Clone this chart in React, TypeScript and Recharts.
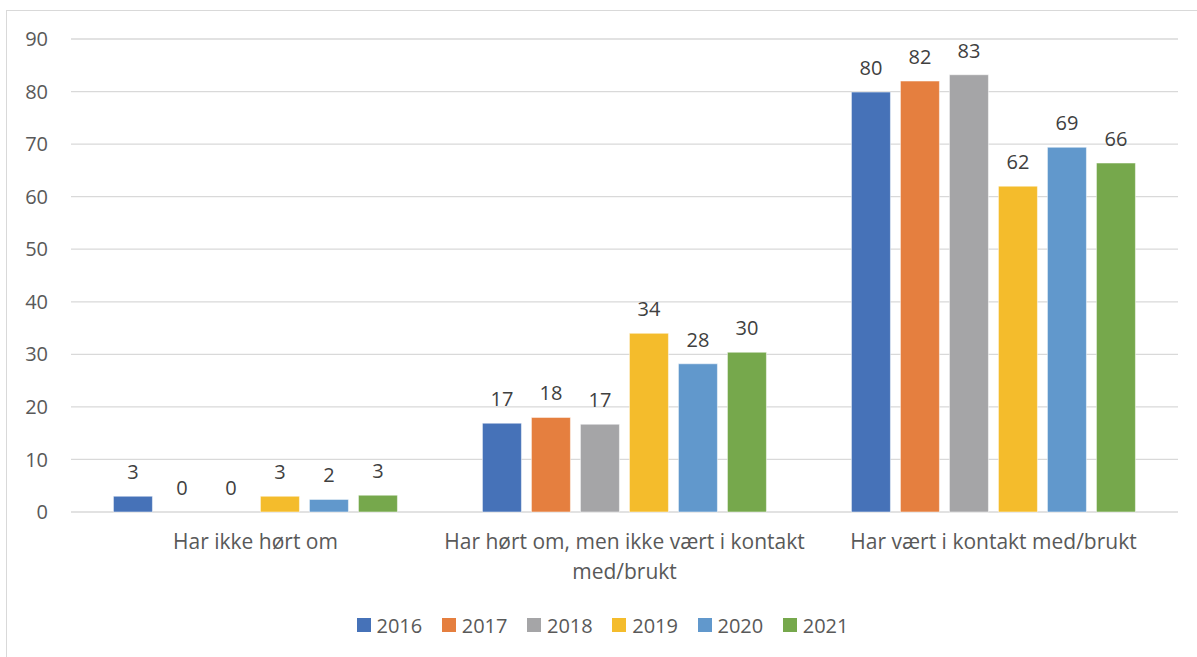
import React from "react";
import {
  BarChart,
  Bar,
  Cell,
  XAxis,
  YAxis,
  CartesianGrid,
  Legend,
  LabelList,
} from "recharts";

const categories = [
  "Har ikke hørt om",
  "Har hørt om, men ikke vært i kontakt med/brukt",
  "Har vært i kontakt med/brukt",
];
const years = ["2016", "2017", "2018", "2019", "2020", "2021"];
const v2016 = [3.0, 16.9, 79.9];
const v2017 = [0, 18.0, 82.0];
const v2018 = [0, 16.7, 83.2];
const v2019 = [3.0, 34.0, 62.0];
const v2020 = [2.4, 28.2, 69.4];
const v2021 = [3.2, 30.4, 66.4];
const yTicks = [0, 10, 20, 30, 40, 50, 60, 70, 80, 90];

const seriesValues = [v2016, v2017, v2018, v2019, v2020, v2021];
const colors = ["#4672b8", "#e57f3f", "#a5a5a7", "#f4bc2c", "#6198cc", "#76a84c"];

const data = categories.map((name, i) => {
  const row: any = { name };
  years.forEach((y, s) => {
    row[y] = seriesValues[s][i];
  });
  return row;
});

const font = "'Open Sans', sans-serif";

// wrap on word boundaries, max 36 chars per line
const wrapLabel = (text: string, max = 36) => {
  const lines: string[] = [];
  let cur = "";
  text.split(" ").forEach((w) => {
    const next = cur ? cur + " " + w : w;
    if (next.length > max && cur) {
      lines.push(cur);
      cur = w;
    } else {
      cur = next;
    }
  });
  if (cur) lines.push(cur);
  return lines;
};

const CategoryTick = (props: any) => {
  const { x, y, payload } = props;
  const lines = wrapLabel(String(payload.value));
  return (
    <text
      x={x}
      y={y}
      textAnchor="middle"
      fill="#595959"
      style={{ fontSize: 21, fontFamily: font }}
    >
      {lines.map((l, i) => (
        <tspan key={i} x={x} dy={i === 0 ? 14 : 30}>
          {l}
        </tspan>
      ))}
    </text>
  );
};

const renderLegend = (props: any) => (
  <div
    style={{
      display: "flex",
      justifyContent: "center",
      height: 30,
      alignItems: "center",
      paddingLeft: 27,
      fontFamily: font,
      fontSize: 20,
      color: "#595959",
    }}
  >
    {props.payload.map((entry: any, i: number) => (
      <div
        key={entry.value}
        style={{ display: "flex", alignItems: "center", marginLeft: i === 0 ? 0 : 19.5 }}
      >
        <span style={{ width: 14, height: 14, background: entry.color, marginRight: 6 }} />
        <span>{entry.value}</span>
      </div>
    ))}
  </div>
);

export default function App() {
  return (
    <div style={{ position: "absolute", left: 0, top: 0, width: 1197, height: 657, background: "#fff", overflow: "hidden" }}>
      <div
        style={{
          position: "absolute",
          left: 6,
          top: 10,
          width: 1220,
          height: 680,
          border: "1.5px solid #d9d9d9",
        }}
      />
      <BarChart
        width={1197}
        height={657}
        data={data}
        margin={{ top: 39, right: 19, left: 0, bottom: 17 }}
        barCategoryGap="11.5%"
        barGap={10}
        style={{ position: "absolute", left: 0, top: 0 }}
      >
        <CartesianGrid vertical={false} stroke="#d9d9d9" strokeWidth={1.3} />
        <XAxis
          dataKey="name"
          axisLine={false}
          tickLine={false}
          tickSize={0}
          tickMargin={23}
          height={98}
          interval={0}
          tick={<CategoryTick />}
        />
        <YAxis
          domain={[0, 90]}
          ticks={yTicks}
          width={71}
          axisLine={false}
          tickLine={false}
          tickSize={0}
          tickMargin={23}
          tick={{ fontSize: 20, fill: "#595959", fontFamily: font }}
        />
        <Legend verticalAlign="bottom" content={renderLegend} />
        {years.map((y, s) => (
          <Bar
            key={y}
            dataKey={y}
            fill={colors[s]}
            stroke="#ffffff"
            strokeOpacity={0.5}
            strokeWidth={1}
            minPointSize={0.01}
            isAnimationActive={false}
          >
            {seriesValues[s].map((v, i) => (
              <Cell key={i} stroke={v === 0 ? "none" : "#ffffff"} fill={v === 0 ? "none" : colors[s]} />
            ))}
            <LabelList
              dataKey={y}
              position="top"
              offset={17}
              formatter={(v: any) => String(Math.round(Number(v)))}
              fill="#404040"
              style={{ fontSize: 20, fontFamily: font }}
            />
          </Bar>
        ))}
      </BarChart>
    </div>
  );
}
